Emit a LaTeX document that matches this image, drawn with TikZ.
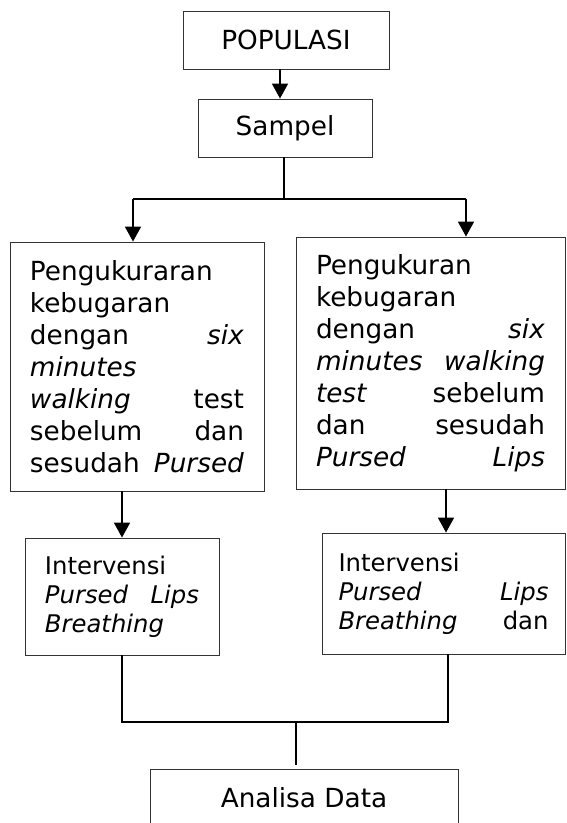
\documentclass[tikz,border=0pt]{standalone}
\usepackage{fontspec}
\setmainfont{DejaVu Sans}
\usetikzlibrary{ arrows.meta, % For the filled arrow heads
               }

\begin{document}
\begin{tikzpicture}[x=1pt, y=-1pt,
    kotak/.style={draw=black!80, line width=0.9pt, inner sep=0pt,
                  font=\fontsize{26.3}{32}\selectfont},
    isi/.style={kotak, align=left, inner xsep=20pt},
    isi_kecil/.style={isi, font=\fontsize{24.3}{29}\selectfont},
    garis/.style={line width=1.8pt},
    panah/.style={garis, -{Triangle[width=16pt,length=15pt]}}]
  \useasboundingbox (0,0) rectangle (566,823);

  \node[kotak, minimum width=206pt, minimum height=58pt] (populasi) at (286,40) {POPULASI};
  \node[kotak, minimum width=174pt, minimum height=58pt] (sampel) at (285,128) {Sampel};

  \node[isi, text width=214pt, minimum height=249pt] (ukur_kiri) at (137,366.5)
    {Pengukuraran\\
     kebugaran\\
     dengan \hfill \textit{six}\\
     \textit{minutes}\\
     \textit{walking} \hfill test\\
     sebelum \hfill dan\\
     sesudah \hfill \textit{Pursed}};
  \node[isi, text width=229pt, minimum height=252pt] (ukur_kanan) at (430.5,363)
    {Pengukuran\\
     kebugaran\\
     dengan \hfill \textit{six}\\
     \textit{minutes} \hfill \textit{walking}\\
     \textit{test} \hfill sebelum\\
     dan \hfill sesudah\\
     \textit{Pursed} \hfill \textit{Lips}};

  \node[isi_kecil, text width=154pt, minimum height=117pt] (intervensi_kiri) at (122,596.5)
    {Intervensi\\
     \textit{Pursed} \hfill \textit{Lips}\\
     \textit{Breathing}};
  \node[isi_kecil, text width=210pt, inner xsep=16.5pt, minimum height=121pt] (intervensi_kanan) at (443.5,593.5)
    {Intervensi\\
     \textit{Pursed} \hfill \textit{Lips}\\
     \textit{Breathing} \hfill dan};

  \node[kotak, minimum width=308pt, minimum height=58pt] (analisa) at (304,798) {Analisa Data};

  \coordinate (cabang) at (284,199);
  \coordinate (cabang_kiri) at (133,199);
  \coordinate (cabang_kanan) at (466,199);
  \coordinate (gabung) at (296,722);
  \coordinate (gabung_kiri) at (122,722);
  \coordinate (gabung_kanan) at (448,722);

  \draw[panah] ([xshift=-6pt]populasi.south) -- ([xshift=-6pt]populasi.south |- sampel.north);
  \draw[garis] (sampel.south -| cabang) -- (cabang);
  \draw[garis] (cabang_kiri) -- (cabang_kanan);
  \draw[panah] (cabang_kiri) -- (cabang_kiri |- ukur_kiri.north);
  \draw[panah] (cabang_kanan) -- (cabang_kanan |- ukur_kanan.north);

  \draw[panah] (intervensi_kiri.north |- ukur_kiri.south) -- (intervensi_kiri.north);
  \draw[panah] ([xshift=2.5pt]intervensi_kanan.north |- ukur_kanan.south) -- ([xshift=2.5pt]intervensi_kanan.north);

  \draw[garis] (gabung_kiri |- intervensi_kiri.south) -- (gabung_kiri) -- (gabung_kanan)
    -- (gabung_kanan |- intervensi_kanan.south);
  \draw[garis] (gabung) -- ([yshift=4pt]analisa.north -| gabung);
\end{tikzpicture}
\end{document}
